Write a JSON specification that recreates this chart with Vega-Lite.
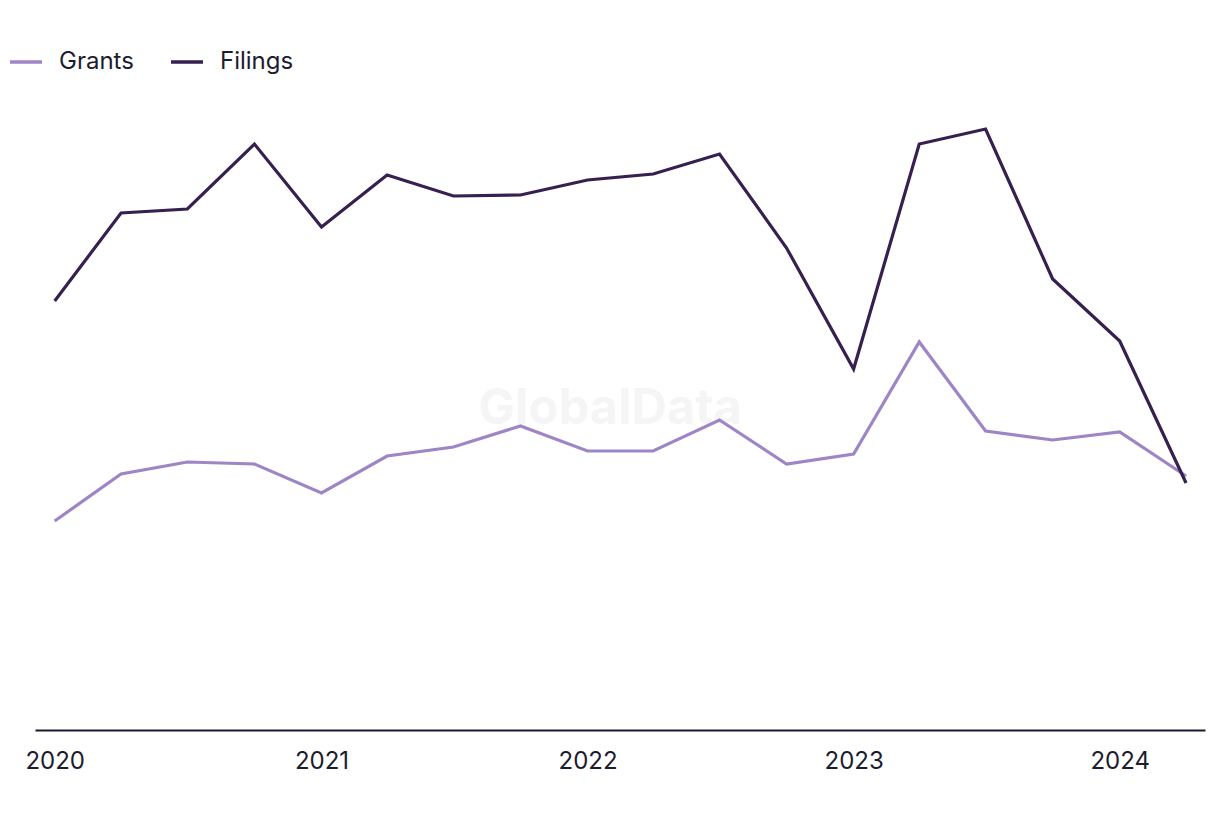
{
  "$schema": "https://vega.github.io/schema/vega-lite/v6.json",
  "width": 1170,
  "height": 650,
  "autosize": {"type": "none"},
  "padding": {"left": 35, "right": 15, "top": 80, "bottom": 90},
  "background": "white",
  "config": {"view": {"stroke": null}, "font": "Inter"},
  "data": {
    "values": [
      {"date": "2020-01-01", "series": "Grants", "value": 209},
      {"date": "2020-04-01", "series": "Grants", "value": 256},
      {"date": "2020-07-01", "series": "Grants", "value": 268},
      {"date": "2020-10-01", "series": "Grants", "value": 266},
      {"date": "2021-01-01", "series": "Grants", "value": 237},
      {"date": "2021-04-01", "series": "Grants", "value": 274},
      {"date": "2021-07-01", "series": "Grants", "value": 283},
      {"date": "2021-10-01", "series": "Grants", "value": 304},
      {"date": "2022-01-01", "series": "Grants", "value": 279},
      {"date": "2022-04-01", "series": "Grants", "value": 279},
      {"date": "2022-07-01", "series": "Grants", "value": 310},
      {"date": "2022-10-01", "series": "Grants", "value": 266},
      {"date": "2023-01-01", "series": "Grants", "value": 276},
      {"date": "2023-04-01", "series": "Grants", "value": 388},
      {"date": "2023-07-01", "series": "Grants", "value": 299},
      {"date": "2023-10-01", "series": "Grants", "value": 290},
      {"date": "2024-01-01", "series": "Grants", "value": 298},
      {"date": "2024-04-01", "series": "Grants", "value": 254},
      {"date": "2020-01-01", "series": "Filings", "value": 429},
      {"date": "2020-04-01", "series": "Filings", "value": 517},
      {"date": "2020-07-01", "series": "Filings", "value": 521},
      {"date": "2020-10-01", "series": "Filings", "value": 586},
      {"date": "2021-01-01", "series": "Filings", "value": 503},
      {"date": "2021-04-01", "series": "Filings", "value": 555},
      {"date": "2021-07-01", "series": "Filings", "value": 534},
      {"date": "2021-10-01", "series": "Filings", "value": 535},
      {"date": "2022-01-01", "series": "Filings", "value": 550},
      {"date": "2022-04-01", "series": "Filings", "value": 556},
      {"date": "2022-07-01", "series": "Filings", "value": 576},
      {"date": "2022-10-01", "series": "Filings", "value": 482},
      {"date": "2023-01-01", "series": "Filings", "value": 361},
      {"date": "2023-04-01", "series": "Filings", "value": 586},
      {"date": "2023-07-01", "series": "Filings", "value": 601},
      {"date": "2023-10-01", "series": "Filings", "value": 451},
      {"date": "2024-01-01", "series": "Filings", "value": 389},
      {"date": "2024-04-01", "series": "Filings", "value": 247},
      {"date": "2022-02-01", "series": "watermark", "value": 321, "label": "GlobalData"}
    ]
  },
  "encoding": {
    "x": {
      "field": "date",
      "type": "temporal",
      "scale": {"domain": ["2019-12-05", "2024-04-27"], "nice": false},
      "axis": {
        "title": null,
        "format": "%Y",
        "tickCount": 5,
        "ticks": false,
        "grid": false,
        "domainColor": "#1b1b2f",
        "domainWidth": 2,
        "labelFontSize": 24,
        "labelColor": "#1c1c2e",
        "labelFont": "Inter",
        "labelPadding": 19,
        "labelFlush": false
      }
    },
    "y": {
      "field": "value",
      "type": "quantitative",
      "scale": {"domain": [0, 650], "nice": false},
      "axis": null
    }
  },
  "layer": [
    {
      "transform": [{"filter": "datum.series === 'watermark'"}],
      "mark": {"type": "text", "fontSize": 49, "fontWeight": "bold", "fill": "#f5f5f5", "align": "center", "baseline": "middle"},
      "encoding": {"text": {"field": "label", "type": "nominal"}}
    },
    {
      "transform": [{"filter": "datum.series !== 'watermark'"}],
      "mark": {"type": "line", "strokeWidth": 3.2},
      "encoding": {
        "color": {
          "field": "series",
          "type": "nominal",
          "scale": {"domain": ["Grants", "Filings"], "range": ["#9d85c6", "#35204f"]},
          "legend": {
            "title": null,
            "orient": "none",
            "direction": "horizontal",
            "legendX": -27,
            "legendY": -36,
            "symbolType": "stroke",
            "symbolSize": 1024,
            "symbolStrokeWidth": 3.5,
            "labelFontSize": 24,
            "labelFont": "Inter",
            "labelColor": "#1c1c2e",
            "labelOffset": 15,
            "columnPadding": 30
          }
        }
      }
    }
  ]
}
